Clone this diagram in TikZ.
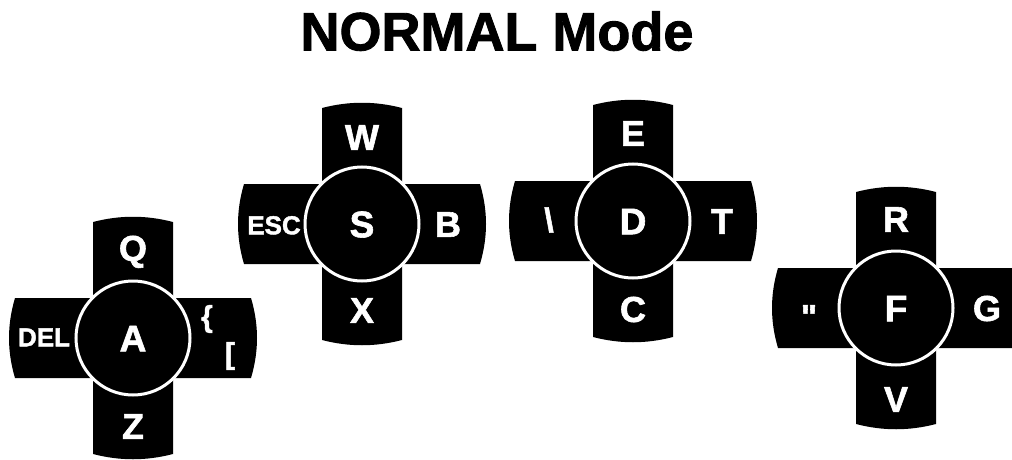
\documentclass[tikz,border=0pt]{standalone}
\usepackage{fontspec}
\setmainfont{Liberation Sans}
\newfontfamily\heavyfont{Liberation Sans}[BoldFeatures={FakeBold=1.6}]
\newcommand\keypadcross{%
  \fill[black] (-40,-116) .. controls (-13,-123) and (13,-123) .. (40,-116)
    -- (40,-40) -- (118,-40) .. controls (126,-13) and (126,13) .. (118,40)
    -- (40,40) -- (40,116) .. controls (13,123) and (-13,123) .. (-40,116)
    -- (-40,40) -- (-118,40) .. controls (-126,13) and (-126,-13) .. (-118,-40)
    -- (-40,-40) -- cycle;}
\tikzset{
  keyhub/.style={circle, fill=black, draw=white, line width=3pt, minimum size=114pt,
    inner sep=0pt, text=white, font=\heavyfont\bfseries\fontsize{37}{37}\selectfont,
    text height=26.5pt, text depth=0pt},
  keylbl/.style={text=white, inner sep=0pt, font=\heavyfont\bfseries\fontsize{36}{36}\selectfont,
    text height=25.8pt, text depth=0pt},
  keyword/.style={text=white, inner sep=0pt, font=\heavyfont\bfseries\fontsize{26}{26}\selectfont,
    text height=18.6pt, text depth=0pt},
  keysym/.style={text=white, inner sep=0pt, font=\heavyfont\bfseries\fontsize{30}{30}\selectfont},
  titletext/.style={inner sep=0pt, font=\heavyfont\bfseries\fontsize{54}{54}\selectfont,
    text height=38.7pt, text depth=0pt},
}
\begin{document}
\begin{tikzpicture}[x=1pt,y=-1pt]
\useasboundingbox[fill=white] (0,0) rectangle (1012,460);
\node[titletext] (title) at (497,31) {NORMAL Mode};
% cluster A
\begin{scope}[shift={(133,338)}]
  \keypadcross
  \node[keyhub] (A) at (0,0) {A};
  \node[keylbl] (Q) at (0,-90) {Q};
  \node[keylbl] (Z) at (0,88) {Z};
  \node[keyword] (DEL) at (-89,-1) {DEL};
  \node[keysym] (brace) at (74,-19) {\{};
  \node[keysym] (bracket) at (97,18) {[};
\end{scope}
% cluster S
\begin{scope}[shift={(362,224)}]
  \keypadcross
  \node[keyhub] (S) at (0,0) {S};
  \node[keylbl] (W) at (0,-87) {W};
  \node[keylbl] (X) at (0,86) {X};
  \node[keyword] (ESC) at (-88,1) {ESC};
  \node[keylbl] (B) at (86,0) {B};
\end{scope}
% cluster D
\begin{scope}[shift={(633,221)}]
  \keypadcross
  \node[keyhub] (D) at (0,0) {D};
  \node[keylbl] (E) at (0,-88) {E};
  \node[keylbl] (C) at (0,88) {C};
  \node[keysym, font=\heavyfont\bfseries\fontsize{34}{34}\selectfont] (bslash) at (-84,-1) {\textbackslash};
  \node[keylbl] (T) at (89,0) {T};
\end{scope}
% cluster F
\begin{scope}[shift={(896,308)}]
  \keypadcross
  \node[keyhub] (F) at (0,0) {F};
  \node[keylbl] (R) at (0,-89) {R};
  \node[keylbl] (V) at (0,91) {V};
  \node[keysym, anchor=north, font=\heavyfont\bfseries\fontsize{34}{34}\selectfont] (quote) at (-87,-3) {\char34};
  \node[keylbl] (G) at (91,0) {G};
\end{scope}
\end{tikzpicture}
\end{document}
